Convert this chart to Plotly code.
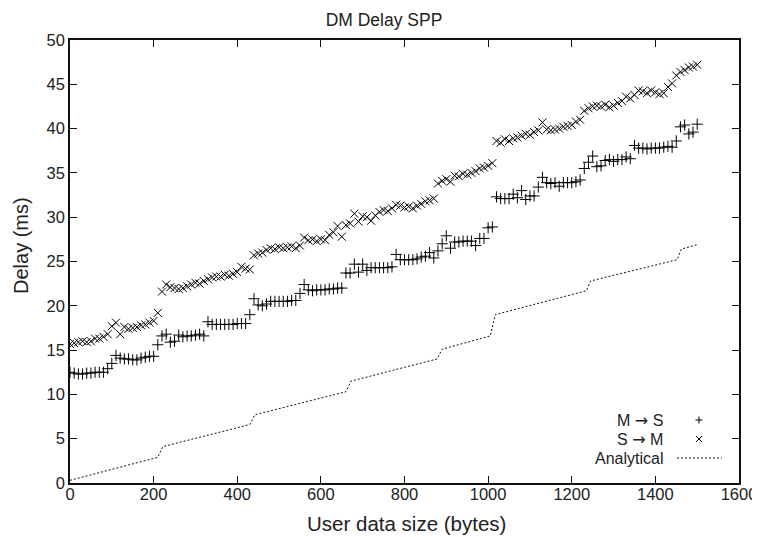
import plotly.graph_objects as go

# ---- data ----
sizes = list(range(0, 1501, 10))  # user data size (bytes)

m_to_s = [
    12.5, 12.4, 12.3, 12.3, 12.4, 12.4, 12.5, 12.5, 12.5, 12.9,
    13.5, 14.4, 14.1, 14.0, 14.0, 13.9, 13.9, 14.1, 14.2, 14.3,
    14.3, 15.6, 16.6, 16.8, 15.9, 16.0, 16.7, 16.5, 16.6, 16.6,
    16.7, 16.8, 16.6, 18.2, 17.9, 17.9, 17.9, 17.9, 17.9, 17.9,
    18.0, 18.0, 18.0, 19.0, 20.8, 20.1, 20.0, 20.2, 20.5, 20.5,
    20.5, 20.5, 20.5, 20.6, 20.6, 21.4, 22.4, 21.8, 21.7, 21.8,
    21.8, 21.8, 21.9, 21.9, 22.0, 22.0, 23.7, 23.7, 24.7, 23.8,
    24.7, 24.0, 24.3, 24.3, 24.3, 24.3, 24.3, 24.4, 25.8, 25.2,
    25.2, 25.2, 25.2, 25.3, 25.5, 25.6, 26.0, 25.4, 26.2, 27.0,
    27.9, 26.5, 27.2, 27.2, 27.3, 27.3, 27.3, 26.8, 27.6, 27.6,
    28.8, 28.9, 32.3, 32.1, 32.1, 32.1, 32.6, 32.2, 33.0, 32.0,
    32.4, 32.4, 33.4, 34.5, 33.9, 33.8, 33.9, 33.5, 33.9, 33.9,
    33.9, 34.0, 34.2, 35.5, 36.2, 36.9, 35.7, 35.8, 36.4, 36.5,
    36.3, 36.5, 36.5, 36.8, 36.6, 38.1, 37.8, 37.8, 37.7, 37.8,
    37.8, 37.8, 37.9, 38.0, 37.9, 38.6, 40.2, 40.4, 39.4, 39.6,
    40.5,
]

s_to_m = [
    15.7, 15.8, 15.9, 16.0, 15.9, 16.0, 16.3, 16.3, 16.5, 16.8,
    17.7, 18.1, 16.8, 17.6, 17.4, 17.5, 17.6, 17.8, 17.9, 18.1,
    18.3, 19.2, 21.6, 22.4, 22.1, 22.0, 21.9, 22.0, 22.2, 22.4,
    22.6, 22.5, 22.8, 23.0, 23.2, 23.3, 23.3, 23.5, 23.4, 23.6,
    23.8, 24.4, 24.2, 24.1, 25.7, 25.9, 26.0, 26.3, 26.5, 26.4,
    26.6, 26.5, 26.6, 26.7, 26.5, 26.8, 27.7, 27.4, 27.5, 27.3,
    27.5, 27.4, 28.0, 28.3, 29.0, 27.8, 29.1, 29.3, 30.4, 29.5,
    30.1, 30.0, 29.6, 30.2, 30.6, 30.8, 30.7, 31.0, 31.4, 31.3,
    31.1, 31.2, 31.0, 31.3, 31.5, 31.8, 31.9, 32.1, 33.8, 34.1,
    34.3, 34.0, 34.7, 34.6, 34.9, 34.8, 35.0, 35.2, 35.5, 35.6,
    35.8, 36.1, 38.6, 38.4, 38.8, 38.6, 38.9, 39.0, 39.2, 39.4,
    39.3, 39.6, 39.8, 40.7, 39.9, 39.8, 39.9, 40.0, 40.2, 40.3,
    40.4, 40.8, 41.0, 42.0, 42.3, 42.5, 42.6, 42.5, 42.7, 42.4,
    42.6, 42.9, 43.1, 43.6, 43.4, 43.8, 44.3, 44.2, 44.0, 44.3,
    44.1, 43.9, 44.0, 44.7, 45.1, 46.0, 46.4, 46.6, 46.9, 47.0,
    47.2,
]

analytical_x = [0, 210, 222, 430, 442, 660, 672, 878, 890, 1005, 1017, 1235, 1245, 1452, 1462, 1500]
analytical_y = [0.3, 2.9, 4.1, 6.6, 7.7, 10.3, 11.5, 14.0, 15.1, 16.6, 19.0, 21.7, 22.8, 25.2, 26.4, 26.9]

x_ticks = [0, 200, 400, 600, 800, 1000, 1200, 1400, 1600]
y_ticks = [0, 5, 10, 15, 20, 25, 30, 35, 40, 45, 50]

ARROW = "<span style=\"font-family:'DejaVu Sans'\">\u2192</span>"
legend_labels = ["M " + ARROW + " S", "S " + ARROW + " M", "Analytical"]

# ---- layout geometry ----
# The page body has an 8px default margin, so the figure is sized/offset to
# put the plot area at the window pixels of the original (x 70..739, y 40..483).
WIN_W, WIN_H, OFF = 760, 537, 8
W, H = WIN_W - OFF, WIN_H - OFF
X0W, X1W, Y0W, Y1W = 70, 739, 40, 483
L, R, T, B = X0W - OFF, W - (X1W - OFF), Y0W - OFF, H - (Y1W - OFF)
PW, PH = W - L - R, H - T - B
FONT = "Liberation Sans, Arial, Helvetica, sans-serif"
TXT = "#222222"


def px(xw):  # window pixel x -> paper fraction
    return (xw - OFF - L) / PW


def py(yw):  # window pixel y -> paper fraction
    return (H - B - (yw - OFF)) / PH


fig = go.Figure()
fig.add_trace(go.Scatter(
    x=sizes, y=m_to_s, mode="markers", name="M -> S",
    marker=dict(symbol="cross-thin", size=8, line=dict(color="black", width=1), color="black"),
))
fig.add_trace(go.Scatter(
    x=sizes, y=s_to_m, mode="markers", name="S -> M",
    marker=dict(symbol="x-thin", size=8, line=dict(color="black", width=1), color="black"),
))
fig.add_trace(go.Scatter(
    x=analytical_x, y=analytical_y, mode="lines", name="Analytical",
    line=dict(color="#111111", width=1, dash="2px,2px"),
))

axis_common = dict(
    showline=True, linecolor="#111111", linewidth=1.5, mirror="allticks",
    ticks="inside", ticklen=7, tickwidth=1, tickcolor="#111111",
    showgrid=False, zeroline=False, automargin=False,
    tickfont=dict(family=FONT, size=16.5, color=TXT),
)

fig.update_layout(
    width=W, height=H,
    margin=dict(l=L, r=R, t=T, b=B, pad=0),
    paper_bgcolor="white", plot_bgcolor="white",
    showlegend=False,
    font=dict(family=FONT, color=TXT),
    title=dict(text="DM Delay SPP", x=px((X0W + X1W) / 2), xanchor="center",
               y=1 - (20 - OFF) / H, yanchor="middle",
               font=dict(family=FONT, size=17.5, color=TXT)),
    xaxis=dict(range=[0, 1600], tickvals=x_ticks, ticktext=[str(v) for v in x_ticks],
               ticklabelstandoff=-5, **axis_common),
    yaxis=dict(range=[0, 50], tickvals=y_ticks, ticktext=[str(v) for v in y_ticks],
               **axis_common),
)

# axis titles (positioned like the gnuplot original)
fig.add_annotation(x=px(406.5), y=py(523), xref="paper", yref="paper",
                   text="User data size (bytes)", showarrow=False,
                   xanchor="center", yanchor="middle",
                   font=dict(family=FONT, size=20.5, color=TXT))
fig.add_annotation(x=px(21), y=py(246), xref="paper", yref="paper",
                   text="Delay (ms)", showarrow=False, textangle=-90,
                   xanchor="center", yanchor="middle",
                   font=dict(family=FONT, size=20, color=TXT))

# ---- gnuplot-style key (text right-aligned, sample on the right) ----
key_rows = [420, 439, 458]
for label, yw in zip(legend_labels, key_rows):
    fig.add_annotation(x=px(665), y=py(yw), xref="paper", yref="paper",
                       text=label, showarrow=False, xanchor="right", yanchor="middle",
                       font=dict(family=FONT, size=16, color=TXT))

kx = px(699)
# "+" sample
fig.add_shape(type="line", xref="paper", yref="paper", xsizemode="pixel", ysizemode="pixel",
              xanchor=kx, yanchor=py(key_rows[0]), x0=-3.5, x1=3.5, y0=0, y1=0,
              line=dict(color="black", width=1))
fig.add_shape(type="line", xref="paper", yref="paper", xsizemode="pixel", ysizemode="pixel",
              xanchor=kx, yanchor=py(key_rows[0]), x0=0, x1=0, y0=-3.5, y1=3.5,
              line=dict(color="black", width=1))
# "x" sample
fig.add_shape(type="line", xref="paper", yref="paper", xsizemode="pixel", ysizemode="pixel",
              xanchor=kx, yanchor=py(key_rows[1]), x0=-3, x1=3, y0=-3, y1=3,
              line=dict(color="black", width=1))
fig.add_shape(type="line", xref="paper", yref="paper", xsizemode="pixel", ysizemode="pixel",
              xanchor=kx, yanchor=py(key_rows[1]), x0=-3, x1=3, y0=3, y1=-3,
              line=dict(color="black", width=1))
# dotted line sample
fig.add_shape(type="line", xref="paper", yref="paper",
              x0=px(677), x1=px(722), y0=py(key_rows[2]), y1=py(key_rows[2]),
              line=dict(color="#111111", width=1, dash="2px,2px"))

fig.write_html("out.html")
